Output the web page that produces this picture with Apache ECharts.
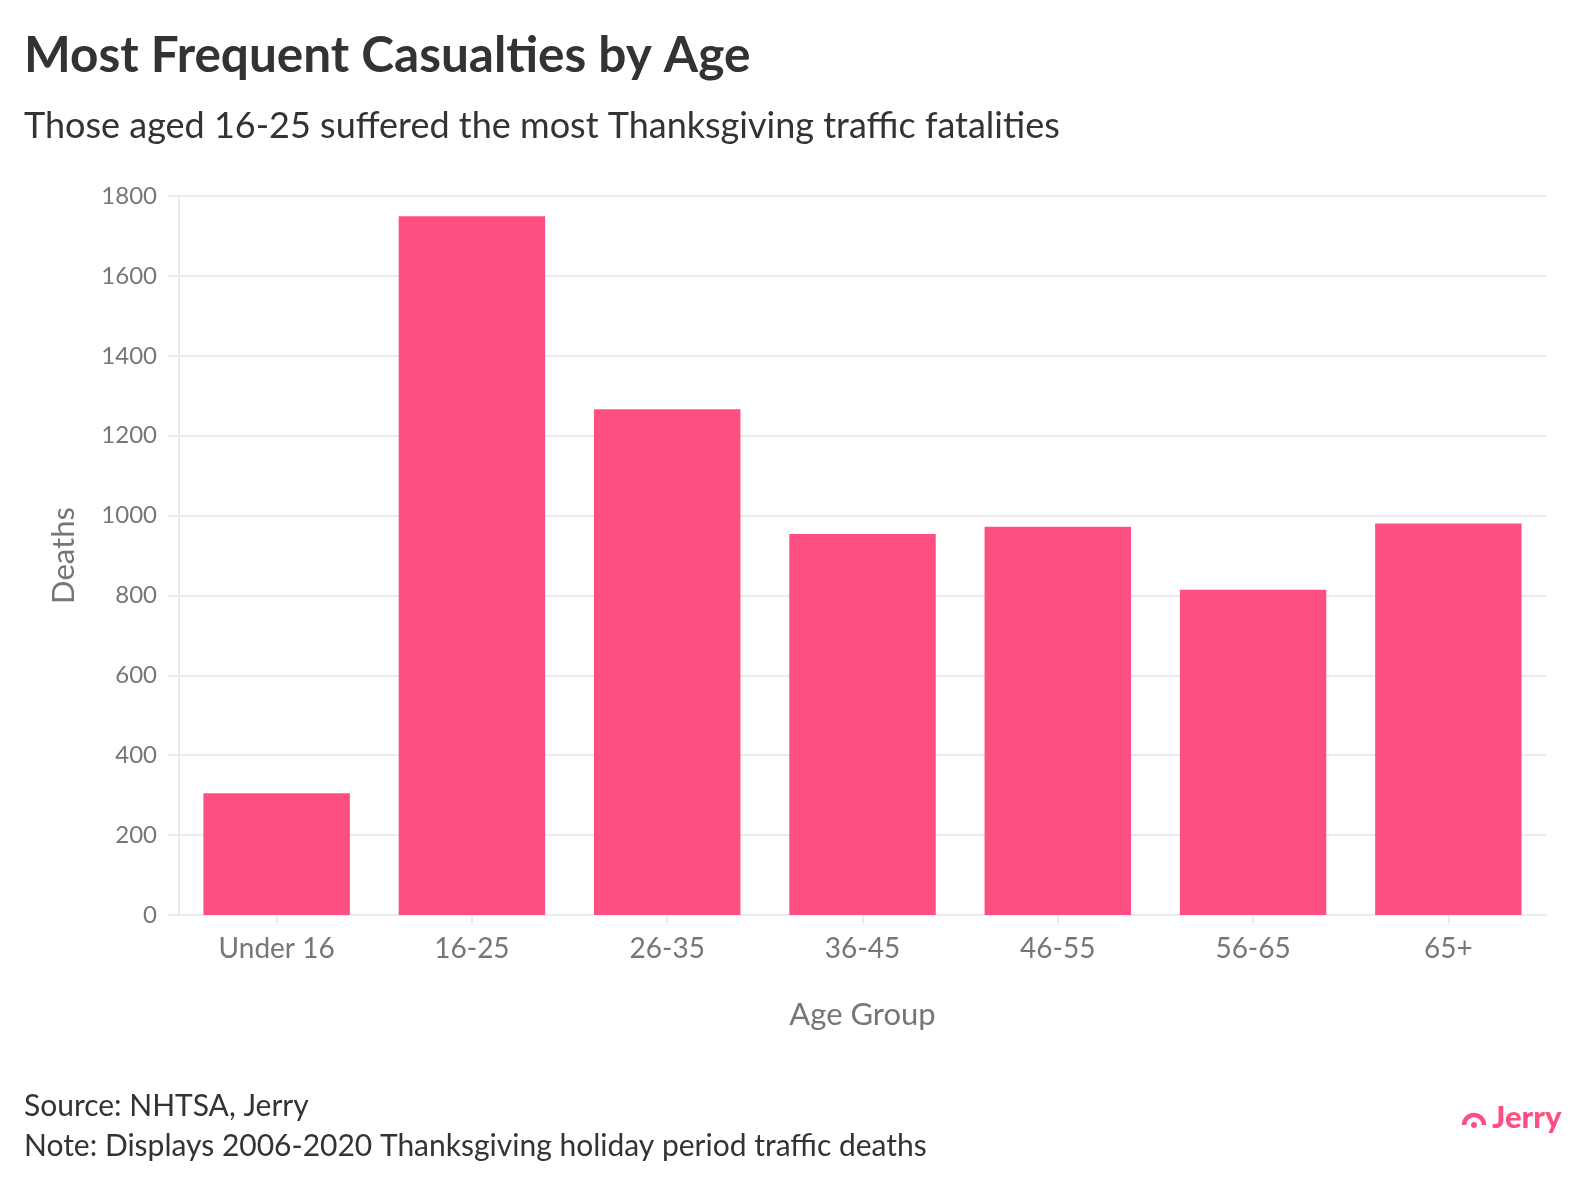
<!DOCTYPE html>
<html>
<head>
<meta charset="utf-8">
<script src="https://cdn.jsdelivr.net/npm/echarts@6/dist/echarts.min.js"></script>
<style>
html,body{margin:0;padding:0;background:#fff;}
#chart{width:1592px;height:1190px;}
</style>
</head>
<body>
<div id="chart"></div>
<script>
const categories = ["Under 16", "16-25", "26-35", "36-45", "46-55", "56-65", "65+"];
const deaths = [305, 1749, 1266, 954, 972, 814, 980];
const yTicks = [0, 200, 400, 600, 800, 1000, 1200, 1400, 1600, 1800];

const titleText = "Most Frequent Casualties by Age";
const subtitleText = "Those aged 16-25 suffered the most Thanksgiving traffic fatalities";
const sourceText = "Source: NHTSA, Jerry";
const noteText = "Note: Displays 2006-2020 Thanksgiving holiday period traffic deaths";

const FONT = "Lato";
const PINK = "#ff4f82";
const GRID = "#ebebeb";
const AXIS_TXT = "#767676";

const chart = echarts.init(document.getElementById('chart'), null, {renderer: 'canvas'});
chart.setOption({
  backgroundColor: '#fff',
  animation: false,
  textStyle: {fontFamily: FONT},
  graphic: [
    {type: 'text', left: 24, top: 31,
     style: {text: titleText, fontSize: 49.5, fontWeight: 'bold', fontFamily: FONT, fill: '#333333'}},
    {type: 'text', left: 24, top: 108,
     style: {text: subtitleText, fontSize: 36, fontFamily: FONT, fill: '#333333'}},
    {type: 'text', left: 24, top: 1091,
     style: {text: sourceText, fontSize: 30, fontFamily: FONT, fill: '#333333'}},
    {type: 'text', left: 24, top: 1131,
     style: {text: noteText, fontSize: 30, fontFamily: FONT, fill: '#333333'}},
    {type: 'arc', shape: {cx: 1474, cy: 1125, r: 10, startAngle: Math.PI, endAngle: 2 * Math.PI},
     style: {stroke: PINK, lineWidth: 4.5, fill: null}},
    {type: 'circle', shape: {cx: 1474, cy: 1125, r: 3}, style: {fill: PINK}},
    {type: 'text', left: 1492, top: 1102,
     style: {text: 'Jerry', fontSize: 31, fontWeight: 900, fontFamily: FONT, fill: PINK}}
  ],
  grid: {left: 179, right: 46, top: 196, bottom: 275, containLabel: false},
  xAxis: {
    type: 'category',
    data: categories,
    name: 'Age Group',
    nameLocation: 'middle',
    nameGap: 84,
    nameTextStyle: {fontSize: 31, color: AXIS_TXT, fontFamily: FONT},
    axisLine: {show: true, lineStyle: {color: GRID, width: 2}},
    axisTick: {show: true, alignWithLabel: true, length: 9, lineStyle: {color: GRID, width: 2}},
    axisLabel: {fontSize: 28, color: AXIS_TXT, margin: 20, fontFamily: FONT}
  },
  yAxis: {
    type: 'value',
    min: yTicks[0],
    max: yTicks[yTicks.length - 1],
    interval: yTicks[1] - yTicks[0],
    name: 'Deaths',
    nameLocation: 'middle',
    nameGap: 100,
    nameRotate: 90,
    nameTextStyle: {fontSize: 31, color: AXIS_TXT, fontFamily: FONT},
    axisLine: {show: true, lineStyle: {color: GRID, width: 2}},
    axisTick: {show: true, length: 11, lineStyle: {color: GRID, width: 2}},
    axisLabel: {fontSize: 24, color: AXIS_TXT, margin: 22, fontFamily: FONT,
                formatter: function (v) { return String(v); }},
    splitLine: {show: true, lineStyle: {color: GRID, width: 2}}
  },
  series: [{
    type: 'bar',
    data: deaths,
    barCategoryGap: '25%',
    itemStyle: {color: PINK},
    silent: true
  }]
});
</script>
</body>
</html>
